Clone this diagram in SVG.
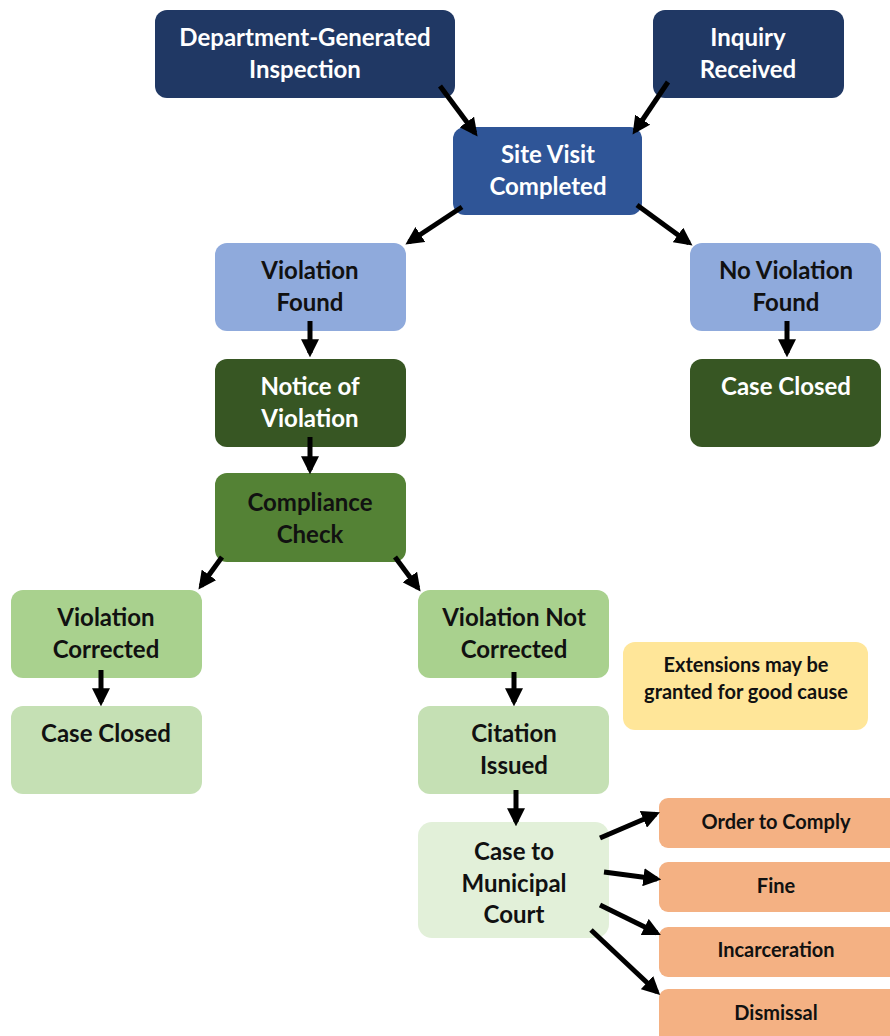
<svg xmlns="http://www.w3.org/2000/svg" width="890" height="1036" viewBox="0 0 890 1036">
<style>
.t{font-family:Lato,"Open Sans","Liberation Sans",sans-serif;font-weight:bold;font-size:24px;text-anchor:middle}
.s{font-size:20px}
.w{fill:#ffffff}
.k{fill:#111111}
.a{stroke:#000;stroke-width:5;fill:none;marker-end:url(#ah)}
</style>
<defs>
<marker id="ah" viewBox="0 0 10 10" refX="7.6" refY="5" markerWidth="3.6" markerHeight="3.6" orient="auto" markerUnits="strokeWidth">
<path d="M0,0 L10,5 L0,10 z" fill="#000"/>
</marker>
</defs>
<rect width="890" height="1036" fill="#ffffff"/>

<g id="dept"><rect x="155" y="10" width="300" height="88" rx="12" fill="#203864"/><text class="t w" x="305" y="46">Department-Generated</text><text class="t w" x="305" y="78">Inspection</text></g>
<g id="inquiry"><rect x="653" y="10" width="191" height="88" rx="12" fill="#203864"/><text class="t w" x="748" y="46">Inquiry</text><text class="t w" x="748" y="78">Received</text></g>
<g id="site"><rect x="453" y="127" width="189" height="88" rx="12" fill="#2F5597"/><text class="t w" x="548" y="163">Site Visit</text><text class="t w" x="548" y="195">Completed</text></g>
<g id="vfound"><rect x="215" y="243" width="191" height="88" rx="12" fill="#8FAADC"/><text class="t k" x="310" y="279">Violation</text><text class="t k" x="310" y="311">Found</text></g>
<g id="novfound"><rect x="690" y="243" width="191" height="88" rx="12" fill="#8FAADC"/><text class="t k" x="786" y="279">No Violation</text><text class="t k" x="786" y="311">Found</text></g>
<g id="notice"><rect x="215" y="359" width="191" height="88" rx="12" fill="#375623"/><text class="t w" x="310" y="395">Notice of</text><text class="t w" x="310" y="427">Violation</text></g>
<g id="closed1"><rect x="690" y="359" width="191" height="88" rx="12" fill="#375623"/><text class="t w" x="786" y="395">Case Closed</text></g>
<g id="compliance"><rect x="215" y="473" width="191" height="89" rx="12" fill="#548235"/><text class="t k" x="310" y="511">Compliance</text><text class="t k" x="310" y="543">Check</text></g>
<g id="vcorr"><rect x="11" y="590" width="191" height="88" rx="12" fill="#A9D18E"/><text class="t k" x="106" y="626">Violation</text><text class="t k" x="106" y="658">Corrected</text></g>
<g id="vnotcorr"><rect x="418" y="590" width="191" height="88" rx="12" fill="#A9D18E"/><text class="t k" x="514" y="626">Violation Not</text><text class="t k" x="514" y="658">Corrected</text></g>
<g id="closed2"><rect x="11" y="706" width="191" height="88" rx="12" fill="#C5E0B4"/><text class="t k" x="106" y="742">Case Closed</text></g>
<g id="citation"><rect x="418" y="706" width="191" height="88" rx="12" fill="#C5E0B4"/><text class="t k" x="514" y="742">Citation</text><text class="t k" x="514" y="774">Issued</text></g>
<g id="court"><rect x="418" y="822" width="191" height="116" rx="14" fill="#E2F0D9"/><text class="t k" x="514" y="860">Case to</text><text class="t k" x="514" y="892">Municipal</text><text class="t k" x="514" y="923">Court</text></g>
<g id="note"><rect x="623" y="642" width="245" height="88" rx="12" fill="#FFE699"/><text class="t k s" x="746" y="672">Extensions may be</text><text class="t k s" x="746" y="699">granted for good cause</text></g>
<g id="order"><rect x="659" y="798" width="240" height="50" rx="9" fill="#F4B183"/><text class="t k s" x="776" y="829">Order to Comply</text></g>
<g id="fine"><rect x="659" y="862" width="240" height="50" rx="9" fill="#F4B183"/><text class="t k s" x="776" y="893">Fine</text></g>
<g id="incarc"><rect x="659" y="927" width="240" height="50" rx="9" fill="#F4B183"/><text class="t k s" x="776" y="957">Incarceration</text></g>
<g id="dismissal"><rect x="659" y="989" width="240" height="60" rx="9" fill="#F4B183"/><text class="t k s" x="776" y="1020">Dismissal</text></g>

<g id="connectors">
<line class="a" x1="440" y1="86" x2="475" y2="133"/>
<line class="a" x1="668" y1="82" x2="635" y2="131"/>
<line class="a" x1="462" y1="207" x2="409" y2="242"/>
<line class="a" x1="637" y1="205" x2="689" y2="243"/>
<line class="a" x1="310" y1="321" x2="310" y2="353"/>
<line class="a" x1="787" y1="321" x2="787" y2="353"/>
<line class="a" x1="310" y1="437" x2="310" y2="470"/>
<line class="a" x1="222" y1="557" x2="201" y2="586"/>
<line class="a" x1="395" y1="557" x2="418" y2="588"/>
<line class="a" x1="101" y1="670" x2="101" y2="702"/>
<line class="a" x1="514" y1="672" x2="514" y2="702"/>
<line class="a" x1="516" y1="790" x2="516" y2="822"/>
<line class="a" x1="600" y1="838" x2="656" y2="814"/>
<line class="a" x1="604" y1="872" x2="657" y2="879"/>
<line class="a" x1="600" y1="905" x2="657" y2="933"/>
<line class="a" x1="591" y1="930" x2="657" y2="992"/>
</g>
</svg>
